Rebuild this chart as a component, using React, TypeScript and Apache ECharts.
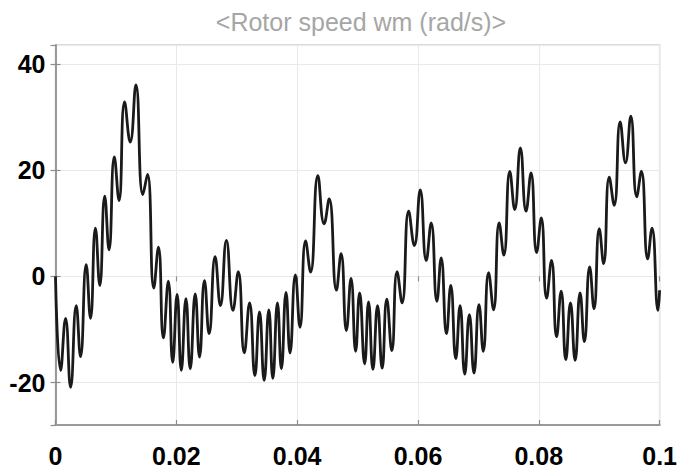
import { useEffect, useRef } from "react";
import * as echarts from "echarts";

// time (s) of each local peak / trough
const timeS = [
  0, 0.00085, 0.00167, 0.0025, 0.00343, 0.00414, 0.00508, 0.00579, 0.00661, 0.00733, 0.00815, 0.00886,
  0.00974, 0.01051, 0.01144, 0.01237, 0.01331, 0.01446, 0.01523, 0.01627, 0.01704, 0.01786, 0.01868, 0.0194,
  0.02013,
  0.02082, 0.02159, 0.0223, 0.02313, 0.02384, 0.02466, 0.02543, 0.02642, 0.0273, 0.02829, 0.02938, 0.03026,
  0.03125, 0.03213, 0.033, 0.03377, 0.03454, 0.03531, 0.03597, 0.03674, 0.03739, 0.03816, 0.03882, 0.0397,
  0.04047,
  0.0414, 0.04222, 0.04343, 0.04447, 0.0453, 0.0465, 0.04727, 0.04815, 0.04892, 0.04968, 0.05034, 0.05117,
  0.05182, 0.05254, 0.05331, 0.05407, 0.05484, 0.05567, 0.05654, 0.05737, 0.05846, 0.0594, 0.06038,
  0.06137, 0.06219, 0.06313, 0.06384, 0.06472, 0.06543, 0.06626, 0.06697, 0.06774, 0.06851, 0.06927, 0.0701,
  0.07081, 0.07169, 0.07251, 0.07344, 0.07421, 0.0752, 0.07602, 0.07695, 0.07789, 0.07871, 0.07964, 0.08041,
  0.08129, 0.08211, 0.08294, 0.0837, 0.08447, 0.08524, 0.08601, 0.08683, 0.08754, 0.08842, 0.08914, 0.09001,
  0.09073, 0.09166, 0.09248, 0.09347, 0.09435, 0.09523, 0.09621, 0.09698, 0.09802, 0.09874, 0.09973, 0.1,
];

// rotor speed wm (rad/s) at those instants
const speed = [
  0, -17.7, -7.9, -20.9, -5.5, -15.1, 2.2, -7.9, 9.1, -1.7, 15.1, 5.0,
  22.5, 14.3, 32.9, 25.3, 36.1, 15.4, 19.2, -2.2, 5.5, -11.6, -0.9, -16.2,
  -3.4,
  -17.7, -4.2, -17.4, -3.3, -15.2, -0.8, -10.8, 3.7, -5.5, 6.8, -6.4, 0.9,
  -14.4, -5.0, -18.7, -6.7, -19.6, -6.3, -19.2, -5.0, -17.4, -3.0, -14.4, 0.3,
  -9.6,
  6.7, 0.8, 19.0, 9.9, 14.6, -2.6, 4.3, -10.2, -0.4, -14.1, -3.1, -16.5,
  -4.8, -17.5, -5.5, -17.3, -4.3, -14.0, 0.9, -5.0, 12.3, 5.8, 16.3,
  3.0, 10.1, -4.7, 3.5, -10.8, -1.7, -15.5, -5.5, -18.4, -7.2, -18.2, -5.3,
  -14.1, 0.7, -6.3, 10.1, 4.0, 19.8, 12.6, 24.2, 12.3, 19.5, 4.5, 11.0,
  -4.1, 3.0, -11.4, -2.8, -15.7, -5.0, -15.8, -3.1, -12.3, 1.8, -6.1, 9.0,
  2.4, 18.7, 13.4, 29.1, 21.4, 30.2, 15.0, 19.8, 3.3, 9.1, -6.4, -2.6,
];

const chartTitle = "<Rotor speed wm (rad/s)>";
const xMin = 0;
const xMax = 0.1;
const xStep = 0.02;
const yMin = -28;
const yMax = 43.6;
const yStep = 20;

const labelFont = "'Liberation Sans', Arial, Helvetica, sans-serif";

export default function App() {
  const ref = useRef<HTMLDivElement>(null);

  useEffect(() => {
    if (!ref.current) return;
    const chart = echarts.init(ref.current, null, { renderer: "svg" });
    const data = timeS.map((t, i) => [t, speed[i]]);
    const tickStyle = { color: "#8c8c8c", width: 1.2 };
    chart.setOption({
      animation: false,
      backgroundColor: "#ffffff",
      title: {
        text: chartTitle,
        left: 356,
        top: 4,
        textAlign: "center",
        textStyle: {
          color: "#a6a6a6",
          fontSize: 25,
          fontWeight: "normal",
          fontFamily: labelFont,
        },
      },
      grid: {
        left: 55.5,
        right: 17,
        top: 45,
        bottom: 43,
        show: true,
        borderColor: "#d2d2d2",
        borderWidth: 1.5,
        backgroundColor: "#ffffff",
      },
      xAxis: [
        {
          type: "value",
          position: "bottom",
          min: xMin,
          max: xMax,
          interval: xStep,
          axisLine: { show: true, onZero: false, lineStyle: { color: "#9a9a9a", width: 2 } },
          axisTick: { show: true, inside: true, length: 5, lineStyle: tickStyle },
          axisLabel: {
            color: "#000000",
            fontSize: 25,
            fontWeight: "bold",
            fontFamily: labelFont,
            margin: 18,
          },
          splitLine: { show: true, lineStyle: { color: "#e9e9e9", width: 1 } },
        },
        {
          type: "value",
          position: "top",
          min: xMin,
          max: xMax,
          interval: xStep,
          axisLine: { show: false },
          axisTick: { show: true, inside: true, length: 5, lineStyle: tickStyle },
          axisLabel: { show: false },
          splitLine: { show: false },
        },
      ],
      yAxis: [
        {
          type: "value",
          position: "left",
          min: yMin,
          max: yMax,
          splitNumber: 3,
          minInterval: yStep,
          maxInterval: yStep,
          axisLine: { show: true, onZero: false, lineStyle: { color: "#9a9a9a", width: 2 } },
          axisTick: { show: true, inside: true, length: 5, lineStyle: tickStyle },
          axisLabel: {
            color: "#000000",
            fontSize: 25,
            fontWeight: "bold",
            fontFamily: labelFont,
            margin: 10,
            showMinLabel: false,
            showMaxLabel: false,
          },
          splitLine: { show: true, lineStyle: { color: "#e9e9e9", width: 1 } },
        },
        {
          type: "value",
          position: "right",
          min: yMin,
          max: yMax,
          splitNumber: 3,
          minInterval: yStep,
          maxInterval: yStep,
          axisLine: { show: false },
          axisTick: { show: true, inside: true, length: 5, lineStyle: tickStyle },
          axisLabel: { show: false },
          splitLine: { show: false },
        },
      ],
      series: [
        {
          type: "line",
          name: "wm",
          xAxisIndex: 0,
          yAxisIndex: 0,
          data,
          showSymbol: false,
          smooth: 0.5,
          clip: true,
          lineStyle: { color: "#1a1a1a", width: 2.8 },
        },
      ],
    });
    return () => chart.dispose();
  }, []);

  return (
    <div
      ref={ref}
      style={{ position: "fixed", left: 0, top: 0, width: 680, height: 468 }}
    />
  );
}
